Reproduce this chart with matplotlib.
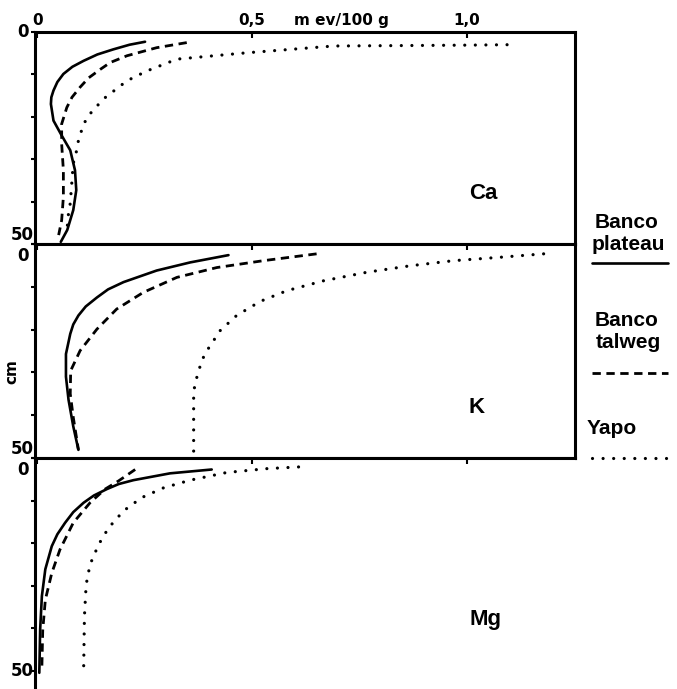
import matplotlib
matplotlib.use("Agg")
import matplotlib.pyplot as plt

# values: (m ev/100 g, depth cm)
ca_plateau_x = [0.251, 0.215, 0.177, 0.140, 0.108, 0.082, 0.061, 0.047, 0.038, 0.033, 0.032, 0.038, 0.057, 0.077, 0.088, 0.091, 0.084, 0.070, 0.055]
ca_plateau_d = [2.3, 3.0, 4.1, 5.3, 6.8, 8.2, 9.9, 11.8, 13.8, 15.4, 17.0, 20.9, 24.4, 27.9, 32.6, 37.3, 42.0, 46.7, 49.5]
ca_talweg_x = [0.348, 0.278, 0.209, 0.170, 0.147, 0.120, 0.100, 0.081, 0.069, 0.057, 0.057, 0.061, 0.061, 0.057, 0.050]
ca_talweg_d = [2.5, 3.7, 5.6, 7.2, 8.8, 10.8, 13.0, 15.4, 17.8, 21.7, 26.4, 32.6, 38.9, 44.4, 47.9]
ca_yapo_x = [1.093, 1.00, 0.85, 0.69, 0.488, 0.325, 0.255, 0.209, 0.154, 0.123, 0.108, 0.096, 0.092, 0.084, 0.081, 0.077, 0.073, 0.070]
ca_yapo_d = [3.0, 3.1, 3.2, 3.3, 4.9, 6.4, 9.2, 11.5, 15.8, 19.3, 21.7, 25.6, 27.9, 31.0, 35.0, 40.4, 42.7, 46.0]

k_plateau_x = [0.445, 0.356, 0.278, 0.201, 0.165, 0.139, 0.113, 0.096, 0.084, 0.077, 0.067, 0.067, 0.073, 0.084, 0.096]
k_plateau_d = [2.6, 4.3, 6.2, 8.9, 10.6, 12.5, 14.6, 16.7, 18.8, 21.0, 25.7, 31.0, 36.4, 42.6, 48.1]
k_talweg_x = [0.650, 0.526, 0.418, 0.325, 0.247, 0.185, 0.139, 0.100, 0.078, 0.077, 0.084, 0.096]
k_talweg_d = [2.3, 3.9, 5.5, 7.8, 11.3, 15.2, 19.9, 24.9, 29.6, 35.0, 40.5, 48.1]
k_yapo_x = [1.178, 1.077, 0.968, 0.867, 0.767, 0.666, 0.581, 0.519, 0.464, 0.426, 0.395, 0.383, 0.371, 0.364, 0.364]
k_yapo_d = [2.3, 3.1, 3.9, 5.1, 6.6, 8.6, 10.9, 13.4, 16.7, 20.2, 24.9, 27.2, 31.3, 34.4, 48.8]

mg_plateau_x = [0.406, 0.309, 0.224, 0.190, 0.162, 0.132, 0.108, 0.084, 0.065, 0.047, 0.034, 0.019, 0.011, 0.007, 0.005]
mg_plateau_d = [2.7, 3.6, 5.2, 6.1, 7.3, 8.8, 10.5, 12.7, 15.2, 17.9, 20.7, 26.1, 32.4, 40.2, 50.4]
mg_talweg_x = [0.228, 0.189, 0.158, 0.123, 0.084, 0.053, 0.034, 0.019, 0.013, 0.011]
mg_talweg_d = [2.7, 5.4, 7.3, 10.5, 15.2, 21.5, 27.0, 33.3, 40.4, 49.0]
mg_yapo_x = [0.608, 0.534, 0.441, 0.356, 0.294, 0.243, 0.201, 0.166, 0.143, 0.123, 0.114, 0.110, 0.108]
mg_yapo_d = [2.1, 2.5, 3.4, 5.2, 7.0, 9.3, 12.4, 16.4, 20.3, 25.0, 29.7, 37.1, 50.4]

elements = ["Ca", "K", "Mg"]
x_ticks = [0, 0.5, 1.0]
x_tick_labels = ["0", "0,5", "1,0"]
legend_names = [("Banco", "plateau"), ("Banco", "talweg"), ("Yapo", "")]

W, H = 677, 689
fig = plt.figure(figsize=(W / 100, H / 100), dpi=100)

solid = dict(color="black", lw=1.9, ls="-", solid_capstyle="round", solid_joinstyle="round")
dashed = dict(color="black", lw=2.0, ls=(0, (3.0, 2.0)), dash_capstyle="butt")
dotted = dict(color="black", lw=2.3, ls=(0, (0.01, 3.3)), dash_capstyle="round")

# axes boxes in pixels (top, bottom)
boxes = [(32, 244), (244, 458), (458, 689)]
ylims = [(50, 0), (50, 0), (54.2, 0)]
series = [
    (ca_plateau_x, ca_plateau_d, ca_talweg_x, ca_talweg_d, ca_yapo_x, ca_yapo_d),
    (k_plateau_x, k_plateau_d, k_talweg_x, k_talweg_d, k_yapo_x, k_yapo_d),
    (mg_plateau_x, mg_plateau_d, mg_talweg_x, mg_talweg_d, mg_yapo_x, mg_yapo_d),
]
label_pos = [(1.037, 38.0), (1.023, 38.1), (1.042, 37.8)]

for i, ((top, bot), yl, s) in enumerate(zip(boxes, ylims, series)):
    ax = fig.add_axes([35 / W, 1 - bot / H, 540 / W, (bot - top) / H])
    ax.set_xlim(-0.005, 1.251)
    ax.set_ylim(*yl)
    ax.plot(s[0], s[1], **solid)
    ax.plot(s[2], s[3], **dashed)
    ax.plot(s[4], s[5], **dotted)
    for sp in ax.spines.values():
        sp.set_linewidth(2.2)
    if i == 2:
        ax.spines["right"].set_visible(False)
        ax.spines["bottom"].set_visible(False)
    ax.xaxis.tick_top()
    ax.set_xticks(x_ticks)
    ax.tick_params(axis="x", direction="in", length=4, width=1.5, top=True, bottom=False)
    if i == 0:
        ax.set_xticklabels(x_tick_labels, fontsize=11, fontweight="bold")
        ax.tick_params(axis="x", pad=3)
    else:
        ax.set_xticklabels([])
    ax.set_yticks([0, 10, 20, 30, 40, 50])
    ax.set_yticklabels([])
    ax.tick_params(axis="y", direction="out", length=3, width=1.5, right=False)
    # depth labels 0 and 50
    va0 = "center" if i == 0 else "top"
    va50 = "center" if i == 2 else "bottom"
    ax.text(-0.020, 0.6 if i else 0, "0", ha="right", va=va0, fontsize=12, fontweight="bold")
    ax.text(-0.008, 50, "50", ha="right", va=va50, fontsize=12, fontweight="bold")
    ax.text(label_pos[i][0], label_pos[i][1], elements[i], ha="center", va="center",
            fontsize=16, fontweight="bold", family="Liberation Sans")

fig.text(341 / W, 1 - 20 / H, "m ev/100 g", ha="center", va="center",
         fontsize=11, fontweight="bold")
fig.text(12 / W, 1 - 372 / H, "cm", rotation=90, ha="center", va="center",
         fontsize=11, fontweight="bold")

# legend at the right
legend_y = [(222, 244), (320, 343), (428, None)]
line_y = [263, 373, 458]
styles = [solid, dashed, dotted]
for (n1, n2), (y1, y2), ly, st in zip(legend_names, legend_y, line_y, styles):
    fig.text(627 / W if n2 else 612 / W, 1 - y1 / H, n1, ha="center", va="center",
             fontsize=15, fontweight="bold", family="Liberation Sans")
    if n2:
        fig.text(628 / W, 1 - y2 / H, n2, ha="center", va="center",
                 fontsize=15, fontweight="bold", family="Liberation Sans")
    fig.add_artist(plt.Line2D([592 / W, 668 / W], [1 - ly / H, 1 - ly / H],
                              transform=fig.transFigure, **st))

fig.savefig("out.png", dpi=100)
